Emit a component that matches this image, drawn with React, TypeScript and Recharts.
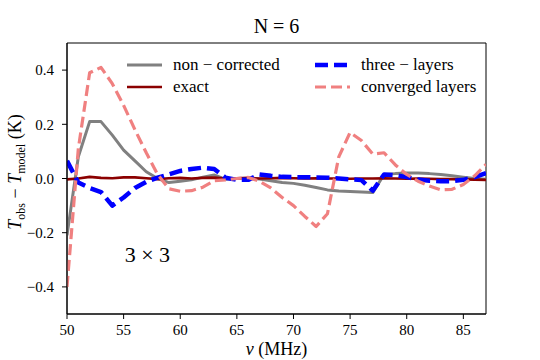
import { LineChart, Line, XAxis, YAxis, ReferenceArea, ReferenceDot, Legend, Label } from 'recharts';

const freq = [50, 51, 52, 53, 54, 55, 56, 57, 58, 59, 60, 61, 62, 63, 64, 65, 66, 67, 68, 69, 70, 71, 72, 73, 74, 75, 76, 77, 78, 79, 80, 81, 82, 83, 84, 85, 86, 87];

const nonCorrected = [-0.21, 0.08, 0.21, 0.21, 0.16, 0.105, 0.065, 0.025, 0.0, -0.015, -0.01, -0.005, 0.005, 0.013, -0.003, 0.0, 0.0, -0.002, -0.008, -0.015, -0.018, -0.025, -0.033, -0.042, -0.046, -0.048, -0.05, -0.052, 0.015, 0.018, 0.02, 0.02, 0.018, 0.015, 0.01, 0.005, 0.0, -0.003];

const exact = [-0.003, 0.0, 0.006, 0.002, 0.001, 0.004, 0.004, 0.001, -0.002, 0.001, 0.002, 0.0, 0.002, 0.003, 0.0, 0.001, 0.002, 0.0, 0.001, 0.002, 0.001, 0.0, 0.001, 0.0, 0.0, -0.001, 0.0, 0.0, 0.001, 0.0, -0.001, 0.0, -0.001, -0.002, -0.002, -0.003, -0.004, -0.005];

const threeLayers = [0.065, -0.015, -0.035, -0.05, -0.1, -0.07, -0.035, -0.012, 0.003, 0.015, 0.028, 0.035, 0.04, 0.035, 0.003, -0.005, -0.005, 0.015, 0.01, 0.006, 0.005, 0.005, 0.004, 0.003, 0.0, -0.003, -0.006, -0.045, 0.015, 0.012, 0.005, -0.004, -0.008, -0.01, -0.01, -0.005, 0.005, 0.02];

const converged = [-0.4, 0.11, 0.39, 0.41, 0.35, 0.27, 0.18, 0.095, 0.015, -0.038, -0.047, -0.045, -0.032, -0.008, -0.005, 0.0, 0.004, -0.01, -0.035, -0.07, -0.1, -0.14, -0.177, -0.13, 0.08, 0.17, 0.14, 0.09, 0.095, 0.05, 0.015, -0.01, -0.028, -0.042, -0.04, -0.022, 0.01, 0.052];

const xTicks = [50, 55, 60, 65, 70, 75, 80, 85];
const yTicks = [-0.4, -0.2, 0.0, 0.2, 0.4];

const series = [
  { key: 'nonCorrected', name: 'non − corrected', color: '#808080', width: 3, dash: undefined },
  { key: 'exact', name: 'exact', color: '#8b0000', width: 2.7, dash: undefined },
  { key: 'threeLayers', name: 'three − layers', color: '#0000ff', width: 4.5, dash: '13 6' },
  { key: 'converged', name: 'converged layers', color: '#f08080', width: 3.2, dash: '11 5' },
];

const FONT = '"Liberation Serif", serif';

const data = freq.map((f, i) => ({
  f,
  nonCorrected: nonCorrected[i],
  exact: exact[i],
  threeLayers: threeLayers[i],
  converged: converged[i],
}));

const fmt = (v: number) => {
  const s = Math.abs(v).toFixed(1);
  return v < -1e-9 ? `−${s}` : s;
};

const renderLegend = () => {
  // matplotlib ncol=2 fills column by column
  const order = [series[0], series[2], series[1], series[3]];
  return (
    <div style={{ display: 'grid', gridTemplateColumns: '188px 180px', fontFamily: FONT, fontSize: 17 }}>
      {order.map((s) => (
        <div key={s.key} style={{ display: 'flex', alignItems: 'center', height: 22 }}>
          <svg width={35} height={10}>
            <line x1={0} y1={5} x2={35} y2={5} stroke={s.color} strokeWidth={s.width} strokeDasharray={s.dash} />
          </svg>
          <span style={{ marginLeft: 11, color: '#000', whiteSpace: 'nowrap' }}>{s.name}</span>
        </div>
      ))}
    </div>
  );
};

const YLabel = () => (
  <text x={21} y={172} transform="rotate(-90,21,172)" textAnchor="middle" fontFamily={FONT} fontSize={18} fill="#000">
    <tspan fontStyle="italic">T</tspan>
    <tspan fontSize={12} dy={4}>obs</tspan>
    <tspan dy={-4}> − </tspan>
    <tspan fontStyle="italic">T</tspan>
    <tspan fontSize={12} dy={4}>model</tspan>
    <tspan dy={-4}> (K)</tspan>
  </text>
);

export default function App() {
  return (
    <div style={{ position: 'absolute', left: 0, top: 0, width: 540, height: 360, background: '#fff' }}>
      <div style={{ position: 'absolute', left: 0, width: 553, top: 15, textAlign: 'center', fontFamily: FONT, fontSize: 20 }}>
        N = 6
      </div>
      <div style={{ position: 'absolute', left: 0, width: 553, top: 339, textAlign: 'center', fontFamily: FONT, fontSize: 18 }}>
        <i>ν</i> (MHz)
      </div>
      <LineChart width={540} height={360} data={data} margin={{ top: 43, right: 54, bottom: 0, left: 0 }}>
        <XAxis
          dataKey="f"
          type="number"
          domain={[50, 87]}
          ticks={xTicks}
          allowDataOverflow
          height={46}
          tickSize={5}
          tickMargin={5}
          axisLine={{ stroke: '#000' }}
          tickLine={{ stroke: '#000' }}
          tick={{ fill: '#000', fontSize: 15, fontFamily: FONT }}
        />
        <YAxis
          type="number"
          domain={[-0.5, 0.5]}
          ticks={yTicks}
          allowDataOverflow
          width={67}
          tickSize={5}
          tickMargin={8}
          tickFormatter={fmt}
          axisLine={{ stroke: '#000' }}
          tickLine={{ stroke: '#000' }}
          tick={{ fill: '#000', fontSize: 15, fontFamily: FONT }}
        >
          <Label content={<YLabel />} />
        </YAxis>
        <ReferenceArea x1={50} x2={87} y1={-0.5} y2={0.5} fill="none" fillOpacity={0} stroke="#000" strokeWidth={1} />
        <ReferenceDot
          x={57.1}
          y={-0.278}
          r={0}
          fill="none"
          stroke="none"
          label={{ value: '3 × 3', position: 'center', fontFamily: FONT, fontSize: 22, fill: '#000' }}
        />
        {series.map((s) => (
          <Line
            key={s.key}
            type="linear"
            dataKey={s.key}
            name={s.name}
            stroke={s.color}
            strokeWidth={s.width}
            strokeDasharray={s.dash}
            strokeLinejoin="round"
            dot={false}
            activeDot={false}
            isAnimationActive={false}
          />
        ))}
        <Legend
          layout="horizontal"
          verticalAlign="middle"
          align="center"
          content={renderLegend}
          wrapperStyle={{ left: 127, top: 54, width: 380 }}
        />
      </LineChart>
    </div>
  );
}
